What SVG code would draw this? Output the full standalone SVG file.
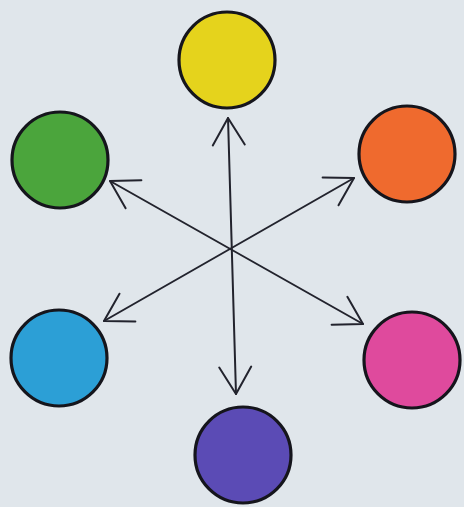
<svg xmlns="http://www.w3.org/2000/svg" width="464" height="507" viewBox="0 0 464 507">
<defs>
<style>
.c{stroke:#15151c;stroke-width:3.2}
.a{stroke:#22232d;stroke-width:2;fill:none;stroke-linecap:round}
</style>
<marker id="h" markerUnits="userSpaceOnUse" markerWidth="40" markerHeight="40" viewBox="-32 -20 40 40" refX="0" refY="0" orient="auto-start-reverse">
<path d="M-27,-16 L0,0 L-27,16" fill="none" stroke="#22232d" stroke-width="2" stroke-linecap="round" stroke-linejoin="round"/>
</marker>
</defs>
<rect width="464" height="507" fill="#e0e6eb"/>
<g id="yellow"><circle class="c" cx="227" cy="60" r="48" fill="#e5d31c"/></g>
<g id="orange"><circle class="c" cx="407" cy="154" r="48" fill="#ef6a2e"/></g>
<g id="magenta"><circle class="c" cx="412" cy="360" r="48" fill="#df4a9d"/></g>
<g id="purple"><circle class="c" cx="243" cy="455" r="48" fill="#5b4bb5"/></g>
<g id="blue"><circle class="c" cx="59" cy="358" r="48" fill="#2c9fd6"/></g>
<g id="green"><circle class="c" cx="60" cy="160" r="48" fill="#4ba53c"/></g>
<g id="connectors">
<line class="a" x1="228" y1="118" x2="236" y2="394" marker-start="url(#h)" marker-end="url(#h)"/>
<line class="a" x1="110" y1="181" x2="363" y2="324" marker-start="url(#h)" marker-end="url(#h)"/>
<line class="a" x1="354" y1="178" x2="104" y2="321" marker-start="url(#h)" marker-end="url(#h)"/>
</g>
</svg>
